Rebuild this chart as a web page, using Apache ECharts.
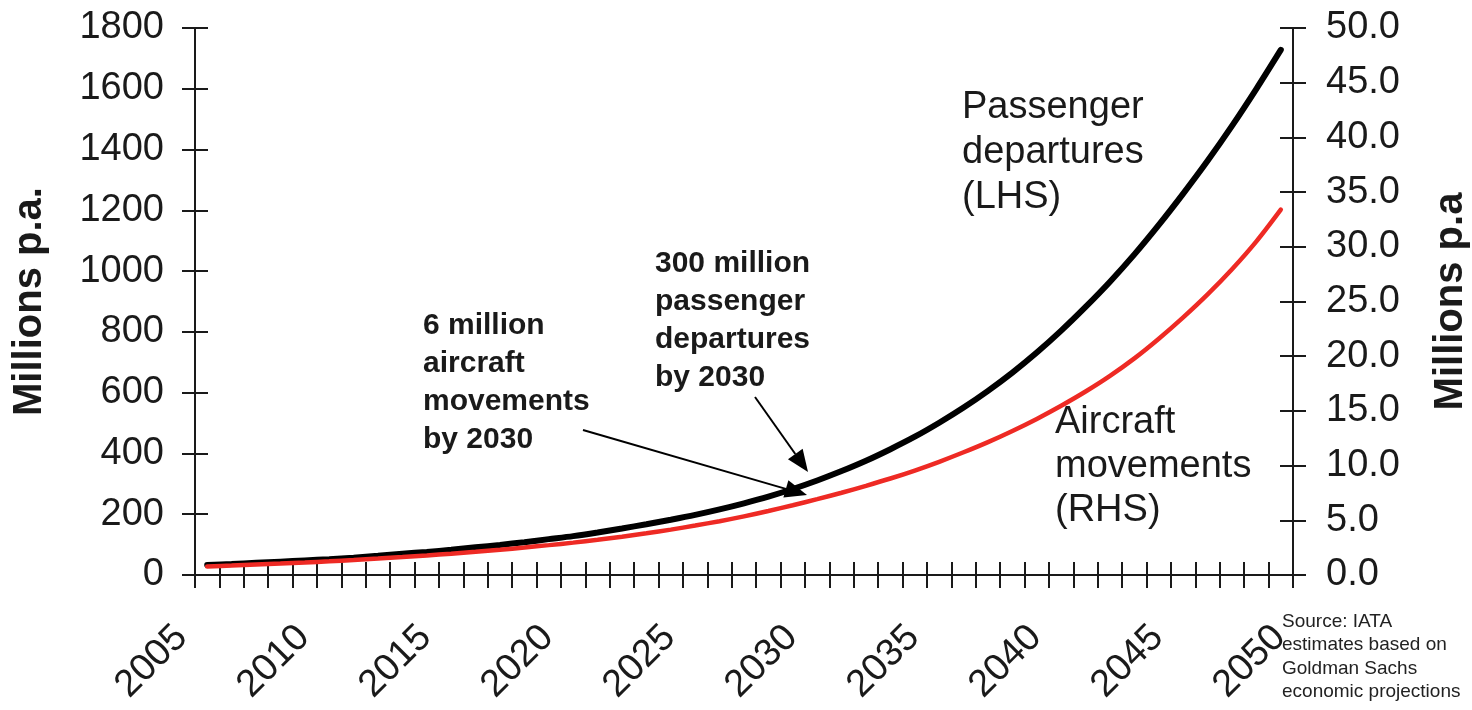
<!DOCTYPE html>
<html>
<head>
<meta charset="utf-8">
<script src="https://cdn.jsdelivr.net/npm/echarts@6/dist/echarts.min.js"></script>
<style>
  html, body { margin: 0; padding: 0; background: #fff; }
  #main { width: 1472px; height: 710px; }
</style>
</head>
<body>
<div id="main"></div>
<script>
// yearly points (plotted in the middle of each year slot)
var years = ['2006','2007','2008','2009','2010','2011','2012','2013','2014','2015',
             '2016','2017','2018','2019','2020','2021','2022','2023','2024','2025',
             '2026','2027','2028','2029','2030','2031','2032','2033','2034','2035',
             '2036','2037','2038','2039','2040','2041','2042','2043','2044','2045',
             '2046','2047','2048','2049','2050'];

// passenger departures, millions p.a. (LHS)
var passengers = [33, 36, 40, 44, 48, 52, 57, 63, 70, 76,
                  83, 91, 99, 108, 118, 128, 140, 153, 167, 182,
                  198, 216, 236, 258, 283, 311, 342, 376, 414, 455,
                  501, 551, 606, 666, 732, 804, 882, 965, 1055, 1152,
                  1255, 1363, 1478, 1600, 1728];

// aircraft movements, millions p.a. (RHS)
var aircraft = [0.78, 0.86, 0.95, 1.04, 1.14, 1.25, 1.37, 1.50, 1.64, 1.79,
                1.95, 2.12, 2.31, 2.51, 2.73, 2.96, 3.22, 3.50, 3.81, 4.15,
                4.52, 4.92, 5.36, 5.85, 6.38, 6.93, 7.52, 8.15, 8.82, 9.55,
                10.35, 11.22, 12.15, 13.17, 14.27, 15.47, 16.77, 18.2, 19.8, 21.6,
                23.55, 25.65, 27.95, 30.5, 33.4];

var leftRange = { min: 0, max: 1800, step: 200 };
var rightRange = { min: 0, max: 50, step: 5 };
var yearRange = { min: 2005, max: 2050 };

var FONT = '"Liberation Sans", Arial, sans-serif';
var INK = '#1a1a1a';

var chart = echarts.init(document.getElementById('main'));

function tickAxis(pos, range, inside, withLine) {
  return {
    type: 'value', position: pos,
    min: range.min, max: range.max, interval: range.step,
    axisLine: { show: withLine, lineStyle: { color: INK, width: 2 } },
    axisTick: { show: true, inside: inside, length: 13, lineStyle: { color: INK, width: 2 } },
    axisLabel: { show: false },
    splitLine: { show: false }
  };
}

function yearAxis(inside, withLine) {
  return {
    type: 'value', position: 'bottom',
    min: yearRange.min, max: yearRange.max, interval: 1,
    axisLine: { show: withLine, onZero: false, lineStyle: { color: INK, width: 2 } },
    axisTick: { show: true, inside: inside, length: 13, lineStyle: { color: INK, width: 2 } },
    axisLabel: { show: false },
    splitLine: { show: false }
  };
}

function arrow(x1, y1, x2, y2) {
  var dx = x2 - x1, dy = y2 - y1;
  var len = Math.sqrt(dx * dx + dy * dy);
  var ux = dx / len, uy = dy / len;
  var hl = 22, hw = 9;
  var bx = x2 - ux * hl, by = y2 - uy * hl;
  return [
    { type: 'line', shape: { x1: x1, y1: y1, x2: bx, y2: by },
      style: { stroke: '#000', lineWidth: 2 }, z: 10 },
    { type: 'polygon',
      shape: { points: [[x2, y2], [bx - uy * hw, by + ux * hw], [bx + uy * hw, by - ux * hw]] },
      style: { fill: '#000' }, z: 10 }
  ];
}

var option = {
  backgroundColor: '#fff',
  animation: false,
  grid: { left: 195, right: 179, top: 28, bottom: 135, outerBoundsMode: 'none' },
  xAxis: [
    { type: 'category', data: years, boundaryGap: true, show: false },
    yearAxis(false, true),
    yearAxis(true, false),
    {
      type: 'value', position: 'bottom',
      min: yearRange.min, max: yearRange.max, interval: 5,
      axisLine: { show: false }, axisTick: { show: false }, splitLine: { show: false },
      axisLabel: {
        rotate: 45, margin: 70, verticalAlign: 'bottom',
        fontSize: 38, fontFamily: FONT, color: INK,
        showMinLabel: true, showMaxLabel: true,
        formatter: function (v) { return String(v); }
      }
    }
  ],
  yAxis: [
    {
      type: 'value', position: 'left',
      min: leftRange.min, max: leftRange.max, interval: leftRange.step,
      name: 'Millions p.a.', nameLocation: 'middle', nameRotate: 90, nameGap: 145,
      nameTextStyle: { fontSize: 40, fontWeight: 'bold', fontFamily: FONT, color: INK },
      axisLine: { show: true, lineStyle: { color: INK, width: 2 } },
      axisTick: { show: true, length: 13, lineStyle: { color: INK, width: 2 } },
      axisLabel: {
        margin: 31, fontSize: 38, fontFamily: FONT, color: INK,
        formatter: function (v) { return String(v); }
      },
      splitLine: { show: false }
    },
    {
      type: 'value', position: 'right',
      min: rightRange.min, max: rightRange.max, interval: rightRange.step,
      name: 'Millions p.a', nameLocation: 'middle', nameRotate: 90, nameGap: 138,
      nameTextStyle: { fontSize: 40, fontWeight: 'bold', fontFamily: FONT, color: INK },
      axisLine: { show: true, lineStyle: { color: INK, width: 2 } },
      axisTick: { show: true, length: 13, lineStyle: { color: INK, width: 2 } },
      axisLabel: {
        margin: 33, fontSize: 38, fontFamily: FONT, color: INK,
        formatter: function (v) { return v.toFixed(1); }
      },
      splitLine: { show: false }
    },
    tickAxis('left', leftRange, true, false),
    tickAxis('right', rightRange, true, false)
  ],
  series: [
    {
      name: 'Passenger departures', type: 'line', xAxisIndex: 0, yAxisIndex: 0,
      data: passengers, smooth: 0.3, showSymbol: false,
      lineStyle: { color: '#000', width: 6, cap: 'round' }, z: 3
    },
    {
      name: 'Aircraft movements', type: 'line', xAxisIndex: 0, yAxisIndex: 1,
      data: aircraft, smooth: 0.3, showSymbol: false,
      lineStyle: { color: '#ee2a24', width: 4.5, cap: 'round' }, z: 4
    }
  ],
  graphic: [
    { type: 'text', left: 962, top: 85, z: 10,
      style: { text: 'Passenger\ndepartures\n(LHS)', font: '38px ' + FONT, lineHeight: 45, fill: INK } },
    { type: 'text', left: 1055, top: 401, z: 10,
      style: { text: 'Aircraft\nmovements\n(RHS)', font: '38px ' + FONT, lineHeight: 44, fill: INK } },
    { type: 'text', left: 423, top: 307, z: 10,
      style: { text: '6 million\naircraft\nmovements\nby 2030', font: 'bold 30px ' + FONT, lineHeight: 38, fill: INK } },
    { type: 'text', left: 655, top: 245, z: 10,
      style: { text: '300 million\npassenger\ndepartures\nby 2030', font: 'bold 30px ' + FONT, lineHeight: 38, fill: INK } },
    { type: 'text', left: 1282, top: 610, z: 10,
      style: { text: 'Source: IATA\nestimates based on\nGoldman Sachs\neconomic projections', font: '19px ' + FONT, lineHeight: 23.5, fill: '#222' } }
  ].concat(arrow(583, 430, 807, 495)).concat(arrow(755, 397, 808, 472))
};

chart.setOption(option);
</script>
</body>
</html>
